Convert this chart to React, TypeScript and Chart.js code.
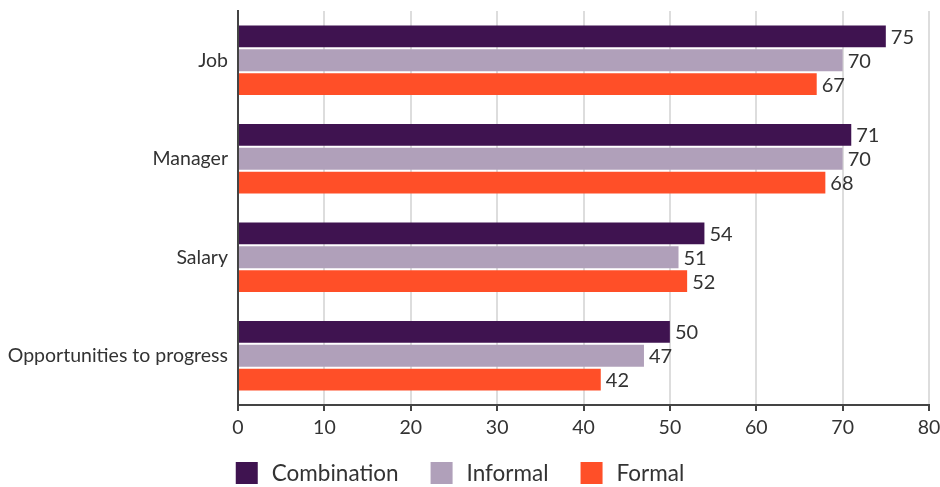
import React, { useEffect, useRef } from "react";
import { Chart, registerables } from "chart.js";

Chart.register(...registerables);

const categories = ["Job", "Manager", "Salary", "Opportunities to progress"];
const combination = [75, 71, 54, 50];
const informal = [70, 70, 51, 47];
const formal = [67, 68, 52, 42];
const xTicks = [0, 10, 20, 30, 40, 50, 60, 70, 80];
const seriesNames = ["Combination", "Informal", "Formal"];
const seriesColors = ["#3f1350", "#b0a0ba", "#ff4f28"];

const FONT = "Lato, 'Open Sans', sans-serif";
const TEXT = "#333333";

const valueLabels = {
  id: "valueLabels",
  afterDatasetsDraw(chart: any) {
    const ctx = chart.ctx;
    ctx.save();
    ctx.font = `20px ${FONT}`;
    ctx.fillStyle = TEXT;
    ctx.textAlign = "left";
    ctx.textBaseline = "middle";
    chart.data.datasets.forEach((ds: any, i: number) => {
      const meta = chart.getDatasetMeta(i);
      meta.data.forEach((bar: any, j: number) => {
        ctx.fillText(String(ds.data[j]), bar.x + 5, bar.y + 1);
      });
    });
    ctx.restore();
  },
};

const customLegend = {
  id: "customLegend",
  afterDraw(chart: any) {
    const ctx = chart.ctx;
    ctx.save();
    ctx.font = `22.5px ${FONT}`;
    const box = 22;
    const gapText = 14;
    const gapItem = 32;
    const widths = seriesNames.map((n) => ctx.measureText(n).width);
    const total =
      widths.reduce((a, b) => a + b, 0) +
      seriesNames.length * (box + gapText) +
      (seriesNames.length - 1) * gapItem;
    let x = chart.width / 2 - 10 - total / 2;
    const cy = chart.height - 14;
    ctx.textBaseline = "middle";
    ctx.textAlign = "left";
    seriesNames.forEach((n, i) => {
      ctx.fillStyle = seriesColors[i];
      ctx.fillRect(x, cy - box / 2, box, box);
      x += box + gapText;
      ctx.fillStyle = TEXT;
      ctx.fillText(n, x, cy + 1);
      x += widths[i] + gapItem;
    });
    ctx.restore();
  },
};

export default function App() {
  const ref = useRef<HTMLCanvasElement>(null);
  useEffect(() => {
    if (!ref.current) return;
    const chart = new Chart(ref.current, {
      type: "bar",
      data: {
        labels: categories,
        datasets: seriesNames.map((n, i) => ({
          label: n,
          data: [combination, informal, formal][i],
          backgroundColor: seriesColors[i],
        })),
      },
      options: {
        indexAxis: "y",
        animation: false,
        responsive: true,
        maintainAspectRatio: false,
        categoryPercentage: 0.727,
        barPercentage: 0.917,
        layout: { padding: { top: 11, right: 11, left: 0, bottom: 0 } },
        scales: {
          x: {
            min: 0,
            max: 80,
            afterBuildTicks: (scale: any) => {
              scale.ticks = xTicks.map((v) => ({ value: v }));
            },
            afterFit: (scale: any) => {
              scale.height = 82;
              scale.paddingLeft = 0;
              scale.paddingRight = 0;
            },
            grid: {
              color: "#dddddd",
              lineWidth: 2,
              tickColor: "#444444",
              tickLength: 6,
              drawTicks: true,
            },
            border: { display: true, color: "#444444", width: 2 },
            ticks: {
              color: TEXT,
              font: { family: FONT, size: 19.5 },
              padding: 5,
            },
          },
          y: {
            afterFit: (scale: any) => {
              scale.width = 238;
              scale.paddingTop = 0;
              scale.paddingBottom = 0;
            },
            grid: { display: false, drawTicks: false },
            border: { display: true, color: "#444444", width: 2 },
            ticks: {
              color: TEXT,
              font: { family: FONT, size: 19.5 },
              padding: 10,
            },
          },
        },
        plugins: {
          legend: { display: false },
          tooltip: { enabled: false },
        },
      },
      plugins: [valueLabels, customLegend],
    });
    return () => chart.destroy();
  }, []);
  return (
    <div style={{ position: "fixed", left: 0, top: 0, width: 940, height: 487 }}>
      <canvas ref={ref} />
    </div>
  );
}
